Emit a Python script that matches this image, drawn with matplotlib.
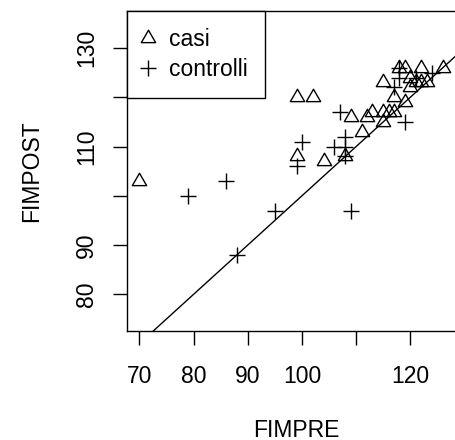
import matplotlib
matplotlib.use("Agg")
import matplotlib.pyplot as plt
from matplotlib.path import Path
import numpy as np

# ---- data ----
casi_pre = [70, 99, 102, 99, 104, 108, 109, 112, 113, 115, 116, 111, 115, 117, 117,
            119, 115, 118, 119, 122, 126, 120, 121, 122, 123, 120]
casi_post = [103, 120, 120, 108, 107, 108, 116, 116, 117, 117, 117, 113, 115, 120, 117,
             119, 123, 126, 126, 126, 126, 124, 123, 123, 123, 122]
controlli_pre = [79, 86, 88, 95, 99, 100, 106, 107, 108, 108, 108, 109, 119, 118, 118,
                 117, 121, 124]
controlli_post = [100, 103, 88, 97, 106, 111, 110, 117, 112, 110, 108, 97, 115, 126, 124,
                  122, 124, 125]
x_ticks = [70, 80, 90, 100, 110, 120, 130]
x_ticklabels = ["70", "80", "90", "100", "", "120", ""]
y_ticks = [80, 90, 100, 110, 120, 130]
y_ticklabels = ["80", "90", "", "110", "", "130"]
legend_labels = ["casi", "controlli"]

plt.rcParams['font.family'] = ['Liberation Sans', 'DejaVu Sans']
FS = 16.5

W, H = 456, 440
fig = plt.figure(figsize=(W / 100, H / 100), dpi=100)
# axes box in pixels: left 127.3, right 464.5, top 11.3, bottom 331
L, R_, T, B = 127.3, 464.5, 11.3, 331.0
ax = fig.add_axes([L / W, 1 - B / H, (R_ - L) / W, (B - T) / H])

tri = Path([(0, 1), (-0.866, -0.5), (0.866, -0.5), (0, 1)],
           [Path.MOVETO, Path.LINETO, Path.LINETO, Path.CLOSEPOLY])

ax.plot(casi_pre, casi_post, linestyle='none', marker=tri, markersize=11.9,
        markerfacecolor='none', markeredgecolor='black', markeredgewidth=1.0,
        label=legend_labels[0])
ax.plot(controlli_pre, controlli_post, linestyle='none', marker='+', markersize=11.4,
        markeredgecolor='black', markeredgewidth=1.0, label=legend_labels[1])
ax.axline((80, 80), slope=1, color='black', linewidth=1.0)

# R-style 4% range extension
xr = (min(casi_pre + controlli_pre), max(casi_pre + controlli_pre))
dx = xr[1] - xr[0]
ax.set_xlim(xr[0] - 0.04 * dx, xr[1] + 0.04 * dx)
ax.set_ylim(72.55, 137.45)

ax.set_xticks(x_ticks)
ax.set_xticklabels(x_ticklabels, fontsize=FS)
ax.set_yticks(y_ticks)
ax.set_yticklabels(y_ticklabels, fontsize=FS, rotation=90, va='center')
ax.tick_params(axis='x', length=10, width=1.0, pad=14.5, direction='out')
ax.tick_params(axis='y', length=10, width=1.0, pad=11, direction='out')
for s in ax.spines.values():
    s.set_linewidth(1.0)

leg = ax.legend(loc='upper left', bbox_to_anchor=(0, 1), borderaxespad=0,
                fontsize=FS, frameon=True, fancybox=False, edgecolor='black',
                framealpha=1, borderpad=0.72, handlelength=0.4, handletextpad=0.72,
                labelspacing=0.32, numpoints=1)
leg.get_frame().set_linewidth(1.0)

fig.text(296.3 / W, 1 - 436.5 / H, "FIMPRE", fontsize=FS, ha='center', va='baseline')
fig.text(38.0 / W, 1 - 171.2 / H, "FIMPOST", fontsize=FS, ha='center', va='baseline',
         rotation=90, rotation_mode='anchor')

fig.savefig("out.png", dpi=100)
